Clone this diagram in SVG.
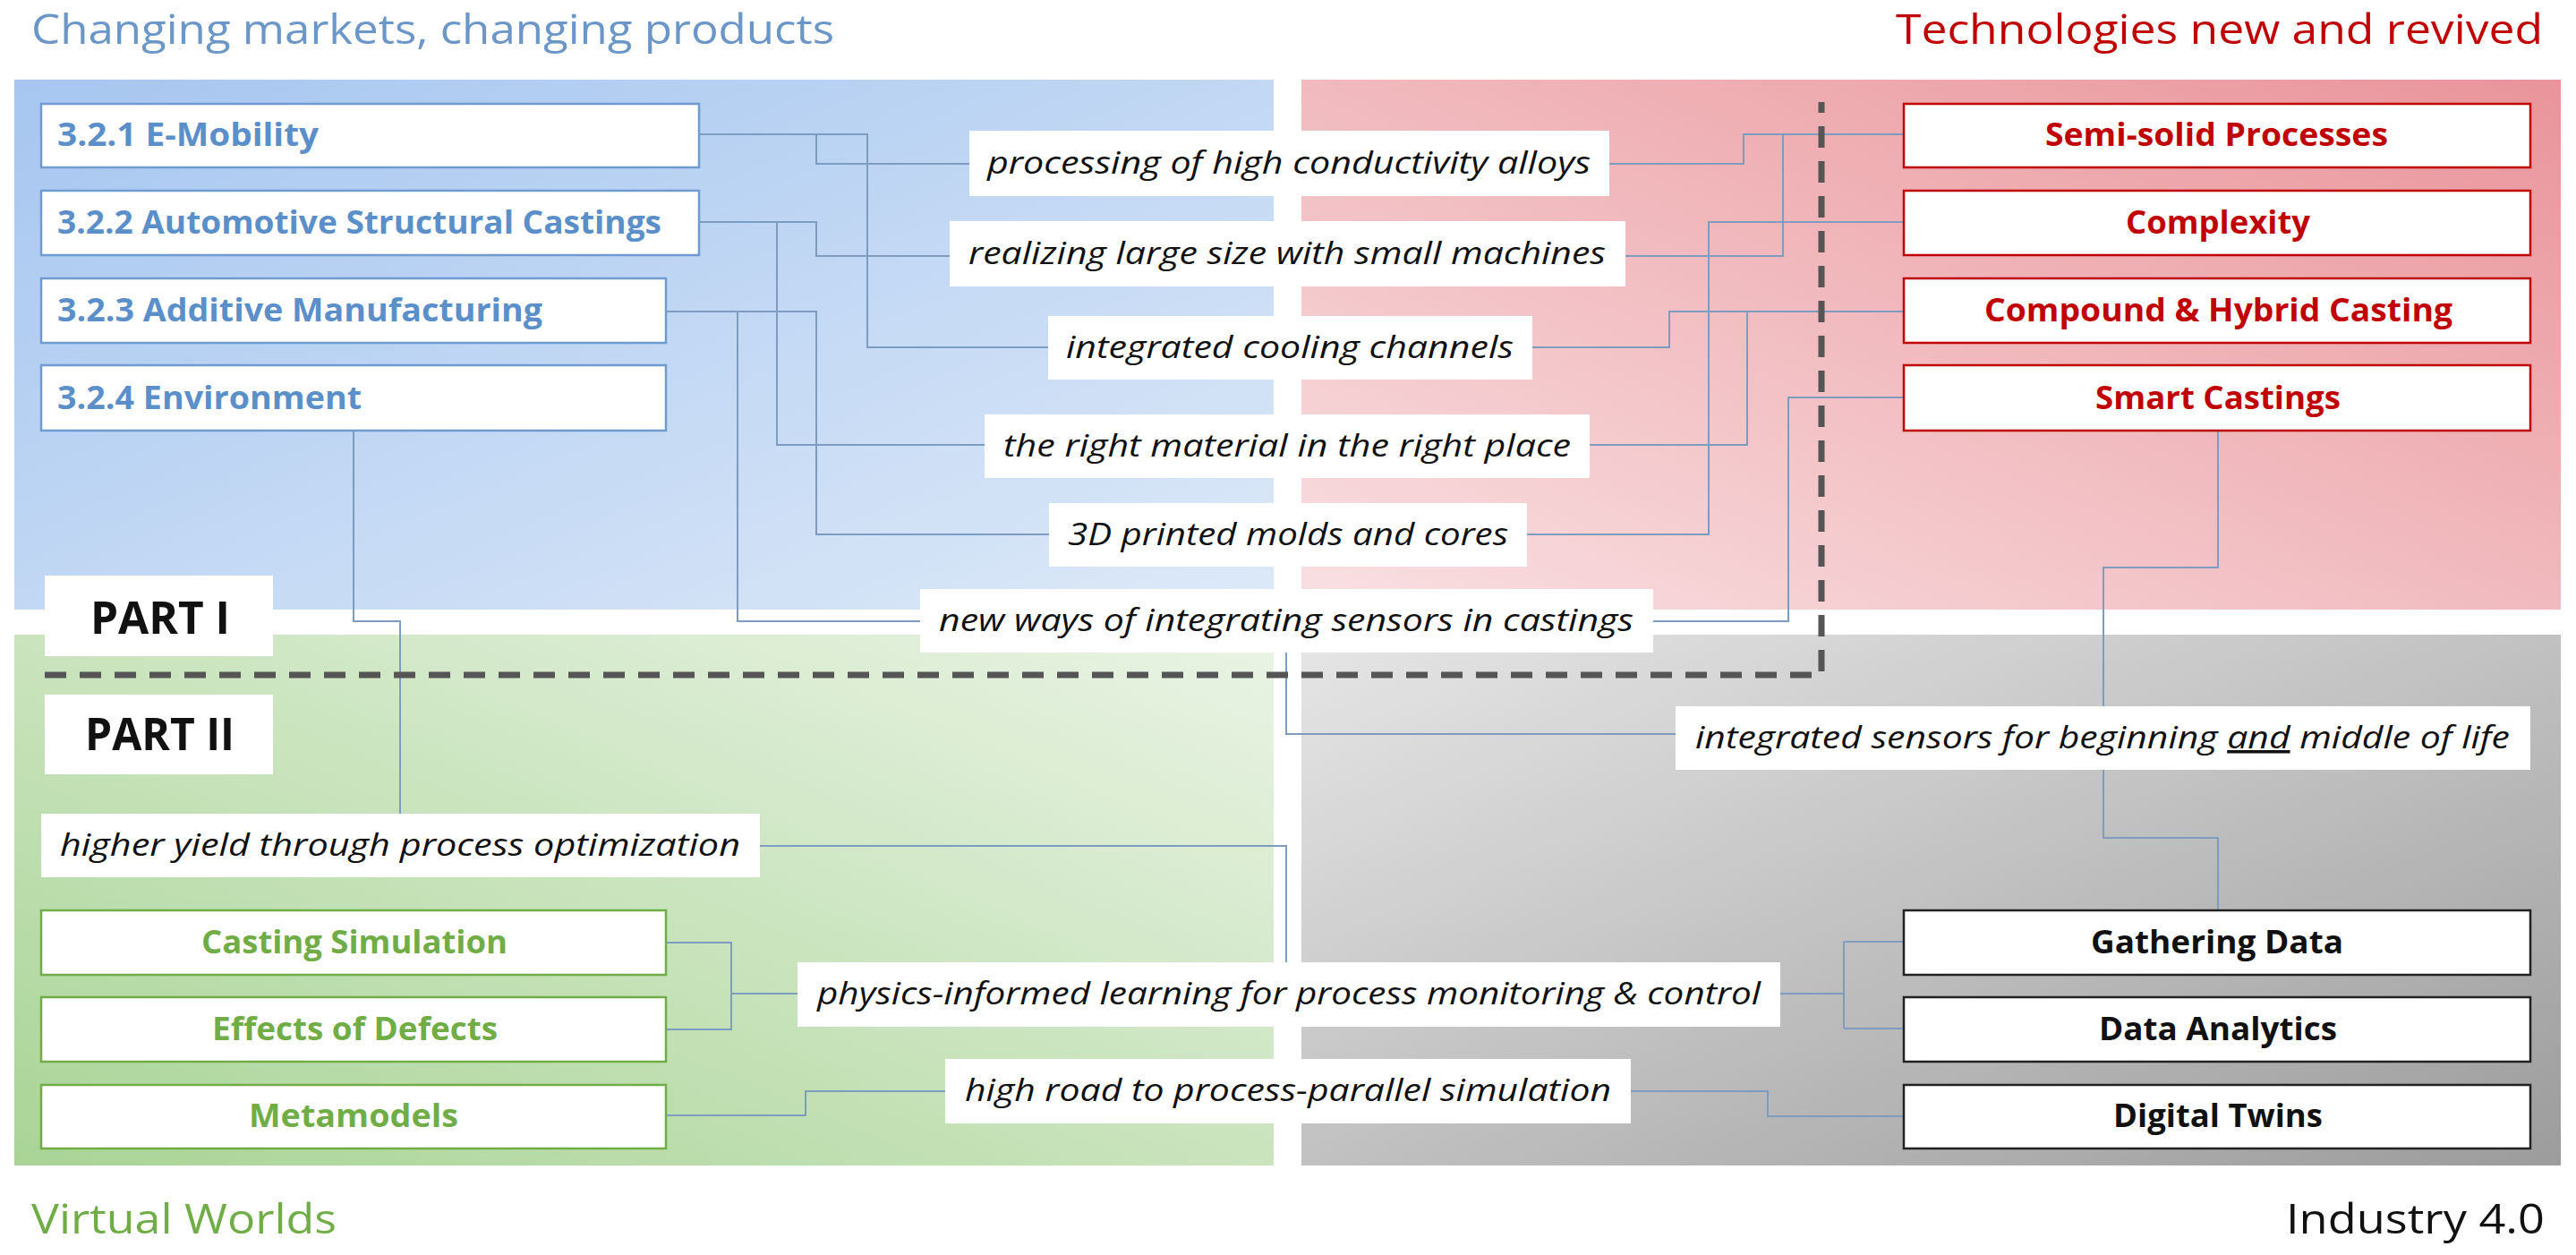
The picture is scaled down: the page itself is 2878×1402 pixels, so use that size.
<svg xmlns="http://www.w3.org/2000/svg" width="2878" height="1402" viewBox="0 0 2878 1402">
<defs>
<linearGradient id="gB" x1="0" y1="0" x2="1" y2="1"><stop offset="0" stop-color="#a6c6f0"/><stop offset="1" stop-color="#dde9f8"/></linearGradient>
<linearGradient id="gR" x1="0" y1="1" x2="1" y2="0"><stop offset="0" stop-color="#f9e0e2"/><stop offset="1" stop-color="#e9949a"/></linearGradient>
<linearGradient id="gG" x1="0" y1="1" x2="1" y2="0"><stop offset="0" stop-color="#a9d496"/><stop offset="1" stop-color="#eaf4e5"/></linearGradient>
<linearGradient id="gK" x1="0" y1="0" x2="1" y2="1"><stop offset="0" stop-color="#e6e6e6"/><stop offset="1" stop-color="#9c9c9c"/></linearGradient>
</defs>
<style>
text{font-family:"Open Sans","Liberation Sans",sans-serif}
.t{font-size:46px}
.bx{fill:#fff;stroke-width:2.5}
.b{stroke:#6f9bd0}.r{stroke:#c00000}.g{stroke:#70ad47}.k{stroke:#222}
.bt{font-size:35px;font-weight:bold}
.lb{fill:#fff}
.lt{font-size:35px;font-style:italic;fill:#111;text-anchor:middle}
.c{fill:none;stroke:#7d9cc0;stroke-width:2}
.pt{font-size:50px;font-weight:bold;fill:#111}
</style>
<rect x="16" y="89" width="1407" height="592" fill="url(#gB)"/>
<rect x="1454" y="89" width="1407" height="592" fill="url(#gR)"/>
<rect x="16" y="709" width="1407" height="593" fill="url(#gG)"/>
<rect x="1454" y="709" width="1407" height="593" fill="url(#gK)"/>
<text class="t" x="35" y="49" fill="#6b96c8" textLength="897" lengthAdjust="spacingAndGlyphs">Changing markets, changing products</text>
<text class="t" x="2118" y="49" fill="#c00000" textLength="723" lengthAdjust="spacingAndGlyphs">Technologies new and revived</text>
<text class="t" x="35" y="1378" fill="#70ad47" textLength="341" lengthAdjust="spacingAndGlyphs">Virtual Worlds</text>
<text class="t" x="2554" y="1378" fill="#111" textLength="289" lengthAdjust="spacingAndGlyphs">Industry 4.0</text>
<g id="connectors">
<path class="c" d="M781 150H912V183H1083M912 150H969V388H1171"/>
<path class="c" d="M781 248H912V286H1061M868 248V497H1100"/>
<path class="c" d="M744 348H912V597H1172M824 348V694H1028"/>
<path class="c" d="M395 481V694H447V909"/>
<path class="c" d="M2127 150H1948V183H1798M1992 150V286H1816"/>
<path class="c" d="M2127 248H1909V597H1706"/>
<path class="c" d="M2127 348H1865V388H1712M1952 348V497H1776"/>
<path class="c" d="M2127 444H1998V694H1847"/>
<path class="c" d="M2478 481V634H2350V789M2350 860V936H2478V1017"/>
<path class="c" d="M1437 729V820H1872"/>
<path class="c" d="M849 945H1437V1075"/>
<path class="c" d="M744 1053H817V1150H744M817 1110H891"/>
<path class="c" d="M744 1246H900V1219H1056"/>
<path class="c" d="M1989 1110H2060M2060 1052V1149M2060 1052H2127M2060 1149H2127"/>
<path class="c" d="M1822 1219H1975V1247H2127"/>
</g>
<path d="M50 754H2035V114" fill="none" stroke="#555" stroke-width="7" stroke-dasharray="24,15"/>
<g id="part1"><rect x="50" y="643" width="255" height="90" fill="#fff"/><text class="pt" x="101" y="708" textLength="156" lengthAdjust="spacingAndGlyphs">PART I</text></g>
<g id="part2"><rect x="50" y="776" width="255" height="89" fill="#fff"/><text class="pt" x="95" y="838" textLength="167" lengthAdjust="spacingAndGlyphs">PART II</text></g>
<g id="emob"><rect class="bx b" x="46" y="116" width="735" height="71"/><text class="bt" x="64" y="163" fill="#5b8fc9" textLength="292" lengthAdjust="spacingAndGlyphs">3.2.1 E-Mobility</text></g>
<g id="auto"><rect class="bx b" x="46" y="213" width="735" height="72"/><text class="bt" x="64" y="261" fill="#5b8fc9" textLength="675" lengthAdjust="spacingAndGlyphs">3.2.2 Automotive Structural Castings</text></g>
<g id="addi"><rect class="bx b" x="46" y="311" width="698" height="72"/><text class="bt" x="64" y="359" fill="#5b8fc9" textLength="542" lengthAdjust="spacingAndGlyphs">3.2.3 Additive Manufacturing</text></g>
<g id="env"><rect class="bx b" x="46" y="408" width="698" height="73"/><text class="bt" x="64" y="457" fill="#5b8fc9" textLength="340" lengthAdjust="spacingAndGlyphs">3.2.4 Environment</text></g>
<g id="semi"><rect class="bx r" x="2127" y="116" width="700" height="71"/><text class="bt" x="2285" y="163" fill="#c00000" textLength="383" lengthAdjust="spacingAndGlyphs">Semi-solid Processes</text></g>
<g id="comp"><rect class="bx r" x="2127" y="213" width="700" height="72"/><text class="bt" x="2375" y="261" fill="#c00000" textLength="206" lengthAdjust="spacingAndGlyphs">Complexity</text></g>
<g id="hyb"><rect class="bx r" x="2127" y="311" width="700" height="72"/><text class="bt" x="2217" y="359" fill="#c00000" textLength="523" lengthAdjust="spacingAndGlyphs">Compound &amp; Hybrid Casting</text></g>
<g id="smart"><rect class="bx r" x="2127" y="408" width="700" height="73"/><text class="bt" x="2341" y="457" fill="#c00000" textLength="274" lengthAdjust="spacingAndGlyphs">Smart Castings</text></g>
<g id="csim"><rect class="bx g" x="46" y="1017" width="698" height="72"/><text class="bt" x="225" y="1065" fill="#70ad47" textLength="342" lengthAdjust="spacingAndGlyphs">Casting Simulation</text></g>
<g id="defects"><rect class="bx g" x="46" y="1114" width="698" height="72"/><text class="bt" x="237" y="1162" fill="#70ad47" textLength="319" lengthAdjust="spacingAndGlyphs">Effects of Defects</text></g>
<g id="meta"><rect class="bx g" x="46" y="1212" width="698" height="71"/><text class="bt" x="278" y="1259" fill="#70ad47" textLength="234" lengthAdjust="spacingAndGlyphs">Metamodels</text></g>
<g id="gather"><rect class="bx k" x="2127" y="1017" width="700" height="72"/><text class="bt" x="2336" y="1065" fill="#111" textLength="282" lengthAdjust="spacingAndGlyphs">Gathering Data</text></g>
<g id="analytics"><rect class="bx k" x="2127" y="1114" width="700" height="72"/><text class="bt" x="2345" y="1162" fill="#111" textLength="266" lengthAdjust="spacingAndGlyphs">Data Analytics</text></g>
<g id="twins"><rect class="bx k" x="2127" y="1212" width="700" height="71"/><text class="bt" x="2361" y="1259" fill="#111" textLength="234" lengthAdjust="spacingAndGlyphs">Digital Twins</text></g>
<g id="l1"><rect class="lb" x="1083" y="146" width="715" height="73"/><text class="lt" x="1440" y="194" textLength="674" lengthAdjust="spacingAndGlyphs">processing of high conductivity alloys</text></g>
<g id="l2"><rect class="lb" x="1061" y="247" width="755" height="73"/><text class="lt" x="1438" y="295" textLength="712" lengthAdjust="spacingAndGlyphs">realizing large size with small machines</text></g>
<g id="l3"><rect class="lb" x="1171" y="353" width="541" height="71"/><text class="lt" x="1441" y="400" textLength="500" lengthAdjust="spacingAndGlyphs">integrated cooling channels</text></g>
<g id="l4"><rect class="lb" x="1100" y="463" width="676" height="71"/><text class="lt" x="1438" y="510" textLength="634" lengthAdjust="spacingAndGlyphs">the right material in the right place</text></g>
<g id="l5"><rect class="lb" x="1172" y="562" width="534" height="71"/><text class="lt" x="1439" y="609" textLength="492" lengthAdjust="spacingAndGlyphs">3D printed molds and cores</text></g>
<g id="l6"><rect class="lb" x="1028" y="658" width="819" height="71"/><text class="lt" x="1437" y="705" textLength="776" lengthAdjust="spacingAndGlyphs">new ways of integrating sensors in castings</text></g>
<g id="l7"><rect class="lb" x="1872" y="789" width="955" height="71"/><text class="lt" x="2349" y="836" textLength="910" lengthAdjust="spacingAndGlyphs">integrated sensors for beginning <tspan text-decoration="underline">and</tspan> middle of life</text></g>
<g id="l8"><rect class="lb" x="46" y="909" width="803" height="71"/><text class="lt" x="447" y="956" textLength="760" lengthAdjust="spacingAndGlyphs">higher yield through process optimization</text></g>
<g id="l9"><rect class="lb" x="891" y="1075" width="1098" height="72"/><text class="lt" x="1440" y="1122" textLength="1054" lengthAdjust="spacingAndGlyphs">physics-informed learning for process monitoring &amp; control</text></g>
<g id="l10"><rect class="lb" x="1056" y="1183" width="766" height="72"/><text class="lt" x="1439" y="1230" textLength="722" lengthAdjust="spacingAndGlyphs">high road to process-parallel simulation</text></g>
</svg>
